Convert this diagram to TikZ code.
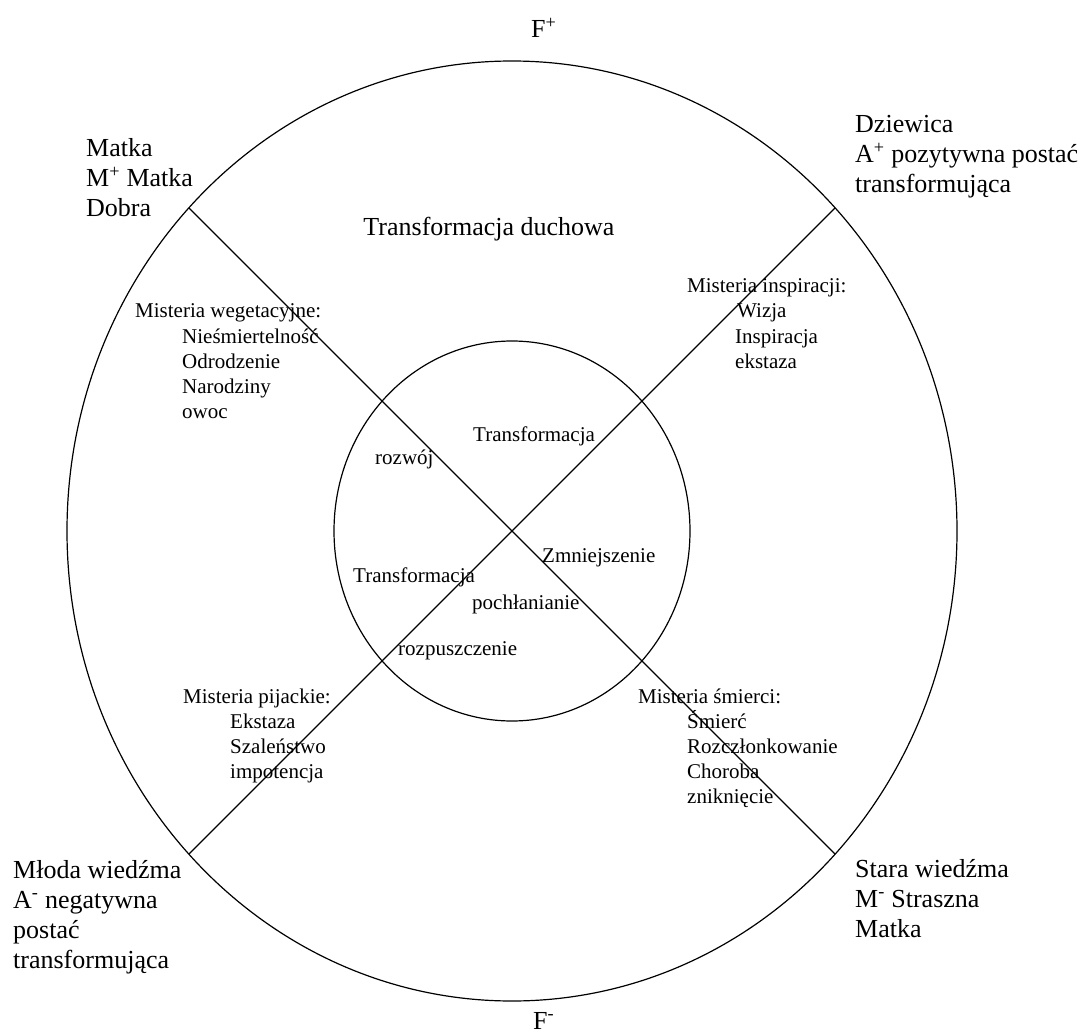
\documentclass[tikz,border=0pt]{standalone}
\usepackage{fontspec}
\setmainfont{Liberation Serif}
\begin{document}
\begin{tikzpicture}[x=1pt,y=-1pt,
  big/.style={font=\fontsize{26}{30}\selectfont, anchor=base west, inner sep=0pt},
  small/.style={font=\fontsize{21}{25}\selectfont, anchor=base west, inner sep=0pt},
  ring/.style={line width=1.2pt, black},
  axis/.style={line width=1.1pt, black}]
\useasboundingbox (0,0) rectangle (1087,1032);
\fill[white] (0,0) rectangle (1087,1032);
% circles
\coordinate (c) at (512,531);
\draw[ring] (c) ellipse [x radius=445pt, y radius=470pt];
\draw[ring] (c) ellipse [x radius=178pt, y radius=190pt];
% diagonals
\coordinate (tl) at (189,208);
\coordinate (tr) at (835,208);
\coordinate (bl) at (189,854);
\coordinate (br) at (835,854);
\draw[axis] (tl) -- (br);
\draw[axis] (tr) -- (bl);
% poles
\node[big] (fplus) at (531,38) {F\textsuperscript{+}};
\node[big] (fminus) at (533,1029) {F\textsuperscript{-}};
% corners
\node[big] (tl1) at (86,157) {Matka};
\node[big] (tl2) at (86,187) {M\textsuperscript{+} Matka};
\node[big] (tl3) at (86,217) {Dobra};
\node[big] (tr1) at (855,133) {Dziewica};
\node[big] (tr2) at (855,163) {A\textsuperscript{+} pozytywna postać};
\node[big] (tr3) at (855,193) {transformująca};
\node[big] (bl1) at (13,878) {Młoda wiedźma};
\node[big] (bl2) at (13,908) {A\textsuperscript{-} negatywna};
\node[big] (bl3) at (13,938) {postać};
\node[big] (bl4) at (13,968) {transformująca};
\node[big] (br1) at (855,877) {Stara wiedźma};
\node[big] (br2) at (855,907) {M\textsuperscript{-} Straszna};
\node[big] (br3) at (855,937) {Matka};
\node[big, anchor=base] (title) at (489,236) {Transformacja duchowa};
% mysteries
\node[small] (w0) at (135,318) {Misteria wegetacyjne:};
\node[small] (w1) at (182,343) {Nieśmiertelność};
\node[small] (w2) at (182,368) {Odrodzenie};
\node[small] (w3) at (182,393) {Narodziny};
\node[small] (w4) at (182,418) {owoc};
\node[small] (i0) at (687,293) {Misteria inspiracji:};
\node[small] (i1) at (737,318) {Wizja};
\node[small] (i2) at (735,343) {Inspiracja};
\node[small] (i3) at (735,368) {ekstaza};
\node[small] (p0) at (183,703) {Misteria pijackie:};
\node[small] (p1) at (230,728) {Ekstaza};
\node[small] (p2) at (230,753) {Szaleństwo};
\node[small] (p3) at (230,778) {impotencja};
\node[small] (s0) at (638,703) {Misteria śmierci:};
\node[small] (s1) at (687,728) {Śmierć};
\node[small] (s2) at (687,753) {Rozczłonkowanie};
\node[small] (s3) at (687,778) {Choroba};
\node[small] (s4) at (687,803) {zniknięcie};
% inner circle
\node[small] (n1) at (473,441) {Transformacja};
\node[small] (n2) at (375,464) {rozwój};
\node[small] (n3) at (542,562) {Zmniejszenie};
\node[small] (n4) at (353,582) {Transformacja};
\node[small] (n5) at (472,609) {pochłanianie};
\node[small] (n6) at (398,655) {rozpuszczenie};
\end{tikzpicture}
\end{document}
